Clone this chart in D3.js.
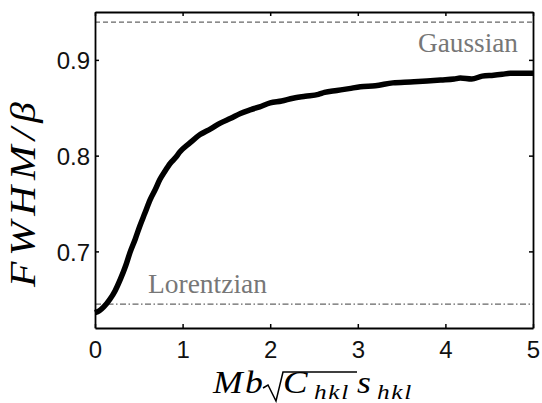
<!DOCTYPE html>
<html>
<head>
<meta charset="utf-8">
<script src="https://cdn.jsdelivr.net/npm/d3@7"></script>
<style>
  body { margin: 0; background: #fff; }
  svg { display: block; }
</style>
</head>
<body>
<div id="chart"></div>
<script>
// curve
const xVals = [0, 0.05, 0.1, 0.17, 0.23, 0.29, 0.35, 0.4, 0.46, 0.51, 0.57, 0.63, 0.69, 0.74, 0.8, 0.86, 0.92, 0.97,
  1.08, 1.2, 1.32, 1.43, 1.55, 1.66, 1.78, 1.88, 2.0, 2.13, 2.26, 2.4, 2.55, 2.62, 2.76, 2.9, 3.03, 3.2, 3.4,
  3.6, 3.79, 3.95, 4.1, 4.17, 4.3, 4.42, 4.55, 4.65, 4.74, 4.85, 5.0];
const yVals = [0.636, 0.638, 0.642, 0.650, 0.659, 0.671, 0.685, 0.699, 0.713, 0.726, 0.740, 0.754, 0.765, 0.775, 0.784, 0.792, 0.798, 0.804,
  0.813, 0.822, 0.828, 0.834, 0.839, 0.844, 0.848, 0.851, 0.855, 0.857, 0.860, 0.862, 0.864, 0.866, 0.868, 0.870, 0.872, 0.873, 0.876,
  0.877, 0.878, 0.879, 0.880, 0.881, 0.880, 0.883, 0.884, 0.885, 0.886, 0.886, 0.886];
const xTicks = [0, 1, 2, 3, 4, 5];
const yTicks = [0.7, 0.8, 0.9];
const gaussLevel = 0.9394;
const lorentzLevel = 0.645;

const width = 542, height = 403;
const margin = { top: 12, right: 9, bottom: 75, left: 95 };

const svg = d3.select('#chart').append('svg')
  .attr('width', width)
  .attr('height', height);

const x = d3.scaleLinear().domain([0, 5]).range([margin.left, width - margin.right]);
const y = d3.scaleLinear().domain([0.62, 0.95]).range([height - margin.bottom, margin.top]);

const serif = 'Liberation Serif, Times New Roman, serif';

// reference lines
svg.append('line')
  .attr('x1', x(0)).attr('x2', x(5))
  .attr('y1', y(gaussLevel)).attr('y2', y(gaussLevel))
  .attr('stroke', '#666').attr('stroke-width', 1.2)
  .attr('stroke-dasharray', '5,3');

svg.append('line')
  .attr('x1', x(0)).attr('x2', x(5))
  .attr('y1', y(lorentzLevel)).attr('y2', y(lorentzLevel))
  .attr('stroke', '#666').attr('stroke-width', 1.2)
  .attr('stroke-dasharray', '6,2.5,1.5,2.5');

svg.append('text')
  .attr('x', 418).attr('y', 52)
  .attr('font-family', serif)
  .attr('font-size', 28)
  .attr('textLength', 100).attr('lengthAdjust', 'spacingAndGlyphs')
  .attr('fill', '#777')
  .text('Gaussian');

svg.append('text')
  .attr('x', 148).attr('y', 293)
  .attr('font-family', serif)
  .attr('font-size', 27)
  .attr('textLength', 119).attr('lengthAdjust', 'spacingAndGlyphs')
  .attr('fill', '#777')
  .text('Lorentzian');

// data curve
const line = d3.line()
  .x((d, i) => x(xVals[i]))
  .y(d => y(d))
  .curve(d3.curveMonotoneX);

svg.append('path')
  .datum(yVals)
  .attr('d', line)
  .attr('fill', 'none')
  .attr('stroke', '#000')
  .attr('stroke-width', 5.5)
  .attr('stroke-linejoin', 'round');

// axes, ticks pointing inward on every side
const tickFont = 'Liberation Sans, Arial, Helvetica, sans-serif';
const bottomAxis = d3.axisBottom(x).tickValues(xTicks).tickFormat(d3.format('d')).tickSizeInner(-4).tickSizeOuter(0).tickPadding(10);
const topAxis = d3.axisTop(x).tickValues(xTicks).tickFormat('').tickSizeInner(-4).tickSizeOuter(0);
const leftAxis = d3.axisLeft(y).tickValues(yTicks).tickFormat(d3.format('.1f')).tickSizeInner(-4).tickSizeOuter(0).tickPadding(5);
const rightAxis = d3.axisRight(y).tickValues(yTicks).tickFormat('').tickSizeInner(-4).tickSizeOuter(0);

const gB = svg.append('g').attr('transform', `translate(0,${y(0.62)})`).call(bottomAxis);
const gT = svg.append('g').attr('transform', `translate(0,${y(0.95)})`).call(topAxis);
const gL = svg.append('g').attr('transform', `translate(${x(0)},0)`).call(leftAxis);
const gR = svg.append('g').attr('transform', `translate(${x(5)},0)`).call(rightAxis);

[gB, gT, gL, gR].forEach(g => {
  g.select('.domain').attr('stroke', '#000').attr('stroke-width', 1.8);
  g.selectAll('.tick line').attr('stroke', '#000').attr('stroke-width', 1.5);
  g.selectAll('.tick text')
    .attr('font-family', tickFont)
    .attr('font-size', 24)
    .attr('fill', '#111');
});
gL.selectAll('.tick text').attr('dy', '0.36em');
gB.selectAll('.tick text').attr('y', 13).attr('dy', '0.71em');

// x label, laid out piece by piece like the typeset formula
const xLabel = svg.append('g')
  .attr('font-family', serif)
  .attr('font-style', 'italic')
  .attr('fill', '#000');
const piece = (txt, px, py, size, spacing) => xLabel.append('text')
  .attr('transform', `translate(${px},${py}) scale(1.15,1)`)
  .attr('font-size', size)
  .style('letter-spacing', spacing + 'px')
  .text(txt);
piece('Mb', 213, 393, 31, 2);
piece('C', 283, 393, 32, 0);
piece('hkl', 314, 399, 22, 1.5);
piece('s', 357, 393, 31, 0);
piece('hkl', 377, 399, 22, 1.5);
svg.append('path')
  .attr('d', 'M263,388 L268,385 L276,401 L283,372 L357,372')
  .attr('fill', 'none')
  .attr('stroke', '#000')
  .attr('stroke-width', 1.5)
  .attr('stroke-linejoin', 'miter');

svg.append('text')
  .attr('transform', 'translate(35,287) rotate(-90) scale(1.15,1)')
  .attr('font-family', serif)
  .attr('font-size', 36)
  .attr('font-style', 'italic')
  .style('letter-spacing', '5px')
  .attr('fill', '#000')
  .text('FWHM/\u03B2');
</script>
</body>
</html>
